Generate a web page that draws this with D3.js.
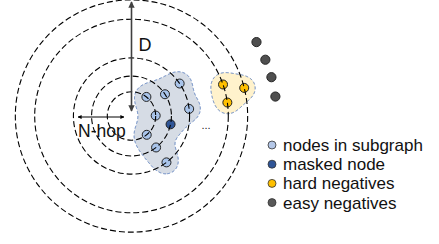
<!DOCTYPE html>
<html>
<head>
<meta charset="utf-8">
<script src="https://cdn.jsdelivr.net/npm/d3@7"></script>
<style>
  body { margin: 0; background: #fff; }
  svg { display: block; font-family: "Liberation Sans", Arial, sans-serif; }
</style>
</head>
<body>
<svg id="chart" width="439" height="244"></svg>
<script>
//Data
const ringDist = [1.0, 1.65, 2.4, 4.0, 4.8];   //hop rings, in hop units

const subRing = [0, 0, 0, 1, 1, 1, 2, 2, 2];
const subAngle = [-52, -1, 51, -33, 12, 52, -34, -7, 53];
const maskedIndex = 4;

const hardRing = [3, 3, 4];
const hardAngle = [-19, -8, -14];

const easyDist = [6.0, 6.0, 6.0, 6.0];
const easyAngle = [-30.6, -22.8, -15.5, -7.7];

const legendLabels = ["nodes in subgraph", "masked node", "hard negatives", "easy negatives"];
const legendColors = ["#b4c7e7", "#2f5597", "#ffc000", "#595959"];

//Measuring (in px)
const width = 439, height = 244;
const cx = 131.5, cy = 116;
const svg = d3.select("#chart");

//hop units -> px
let rScale = d3.scaleLinear().domain([0, 1]).range([0, 24.2]);
let xScale = d3.scaleLinear().domain([0, 1]).range([cx, cx + 24.2]);
let yScale = d3.scaleLinear().domain([0, 1]).range([cy, cy + 24.2]);

function polar(dist, angle) {
    let a = angle * Math.PI / 180;
    return [xScale(dist * Math.cos(a)), yScale(dist * Math.sin(a))];
}

const subNodes = subRing.map((r, i) => {
    let p = polar(ringDist[r], subAngle[i]);
    return { x: p[0], y: p[1], masked: i === maskedIndex };
});
const hardNodes = hardRing.map((r, i) => {
    let p = polar(ringDist[r], hardAngle[i]);
    return { x: p[0], y: p[1] };
});
const easyNodes = easyDist.map((d, i) => {
    let p = polar(d, easyAngle[i]);
    return { x: p[0], y: p[1] };
});

//Blob around a group of nodes: metaball field, outlined with d3.contours
const res = 2; //grid cells per px
function blobPath(nodes, sigma, thresh) {
    let gw = width * res, gh = height * res;
    let values = new Float64Array(gw * gh);
    for (let j = 0; j < gh; j++) {
        for (let i = 0; i < gw; i++) {
            let x = (i + 0.5) / res, y = (j + 0.5) / res, v = 0;
            nodes.forEach(n => {
                let dx = x - n.x, dy = y - n.y;
                v += Math.exp(-(dx * dx + dy * dy) / (2 * sigma * sigma));
            });
            values[j * gw + i] = v;
        }
    }
    let c = d3.contours().size([gw, gh]).thresholds([thresh])(values)[0];
    return d3.geoPath(d3.geoIdentity().scale(1 / res))(c);
}

svg.append("path")
    .attr("d", blobPath(subNodes, 11, 0.62))
    .attr("fill", "#d6dce5")
    .attr("stroke", "#5b7fbf")
    .attr("stroke-width", 1)
    .attr("stroke-dasharray", "3,2");

svg.append("path")
    .attr("d", blobPath(hardNodes, 10.5, 0.6))
    .attr("fill", "#fff2cc")
    .attr("stroke", "#5b7fbf")
    .attr("stroke-width", 1)
    .attr("stroke-dasharray", "3,2");

//Nodes
svg.append("g").selectAll("circle")
    .data(subNodes)
    .enter()
    .append("circle")
    .attr("cx", d => d.x)
    .attr("cy", d => d.y)
    .attr("r", 4.5)
    .attr("fill", d => d.masked ? "#2f5597" : "#a9c4ea")
    .attr("stroke", "#222")
    .attr("stroke-width", 1);

svg.append("g").selectAll("circle")
    .data(hardNodes)
    .enter()
    .append("circle")
    .attr("cx", d => d.x)
    .attr("cy", d => d.y)
    .attr("r", 4.5)
    .attr("fill", "#ffc000")
    .attr("stroke", "#222")
    .attr("stroke-width", 1);

svg.append("g").selectAll("circle")
    .data(easyNodes)
    .enter()
    .append("circle")
    .attr("cx", d => d.x)
    .attr("cy", d => d.y)
    .attr("r", 4.6)
    .attr("fill", "#4f4f4f")
    .attr("stroke", "#262626")
    .attr("stroke-width", 1);

//Hop rings (drawn over the nodes, as in the figure)
svg.append("g").selectAll("circle")
    .data(ringDist)
    .enter()
    .append("circle")
    .attr("cx", cx)
    .attr("cy", cy)
    .attr("r", d => rScale(d))
    .attr("fill", "none")
    .attr("stroke", "#000")
    .attr("stroke-width", 1.1)
    .attr("stroke-dasharray", "6,3");

//Arrow markers
const defs = svg.append("defs");
function marker(id, color) {
    defs.append("marker")
        .attr("id", id)
        .attr("viewBox", "0 0 10 10")
        .attr("refX", 9).attr("refY", 5)
        .attr("markerWidth", 4).attr("markerHeight", 4)
        .attr("orient", "auto-start-reverse")
        .append("path")
        .attr("d", "M0,0 L10,5 L0,10 z")
        .attr("fill", color);
}
marker("arrD", "#404040");
marker("arrN", "#000");

//D arrow
svg.append("line")
    .attr("x1", cx).attr("y1", 2)
    .attr("x2", cx).attr("y2", 111)
    .attr("stroke", "#404040")
    .attr("stroke-width", 1.6)
    .attr("marker-start", "url(#arrD)")
    .attr("marker-end", "url(#arrD)");

svg.append("text")
    .attr("x", 138.5).attr("y", 50.5)
    .attr("font-size", 18)
    .attr("fill", "#111")
    .text("D");

//N-hop arrow
svg.append("line")
    .attr("x1", 78).attr("y1", 117)
    .attr("x2", 124).attr("y2", 117)
    .attr("stroke", "#000")
    .attr("stroke-width", 1)
    .attr("marker-start", "url(#arrN)")
    .attr("marker-end", "url(#arrN)");

svg.append("text")
    .attr("x", 78).attr("y", 137)
    .attr("font-size", 17.5)
    .attr("fill", "#111")
    .text("N-hop");

svg.append("text")
    .attr("x", 201.5).attr("y", 129)
    .attr("font-size", 11)
    .attr("fill", "#222")
    .text("...");

//Legend
const legend = svg.append("g").selectAll("g")
    .data(legendLabels)
    .enter()
    .append("g")
    .attr("transform", (d, i) => `translate(272, ${145 + i * 19.2})`);

legend.append("circle")
    .attr("r", 4)
    .attr("fill", (d, i) => legendColors[i])
    .attr("stroke", "#333")
    .attr("stroke-width", 0.8);

legend.append("text")
    .attr("x", 11)
    .attr("y", 6)
    .attr("font-size", 17)
    .attr("fill", "#111")
    .text(d => d);
</script>
</body>
</html>
